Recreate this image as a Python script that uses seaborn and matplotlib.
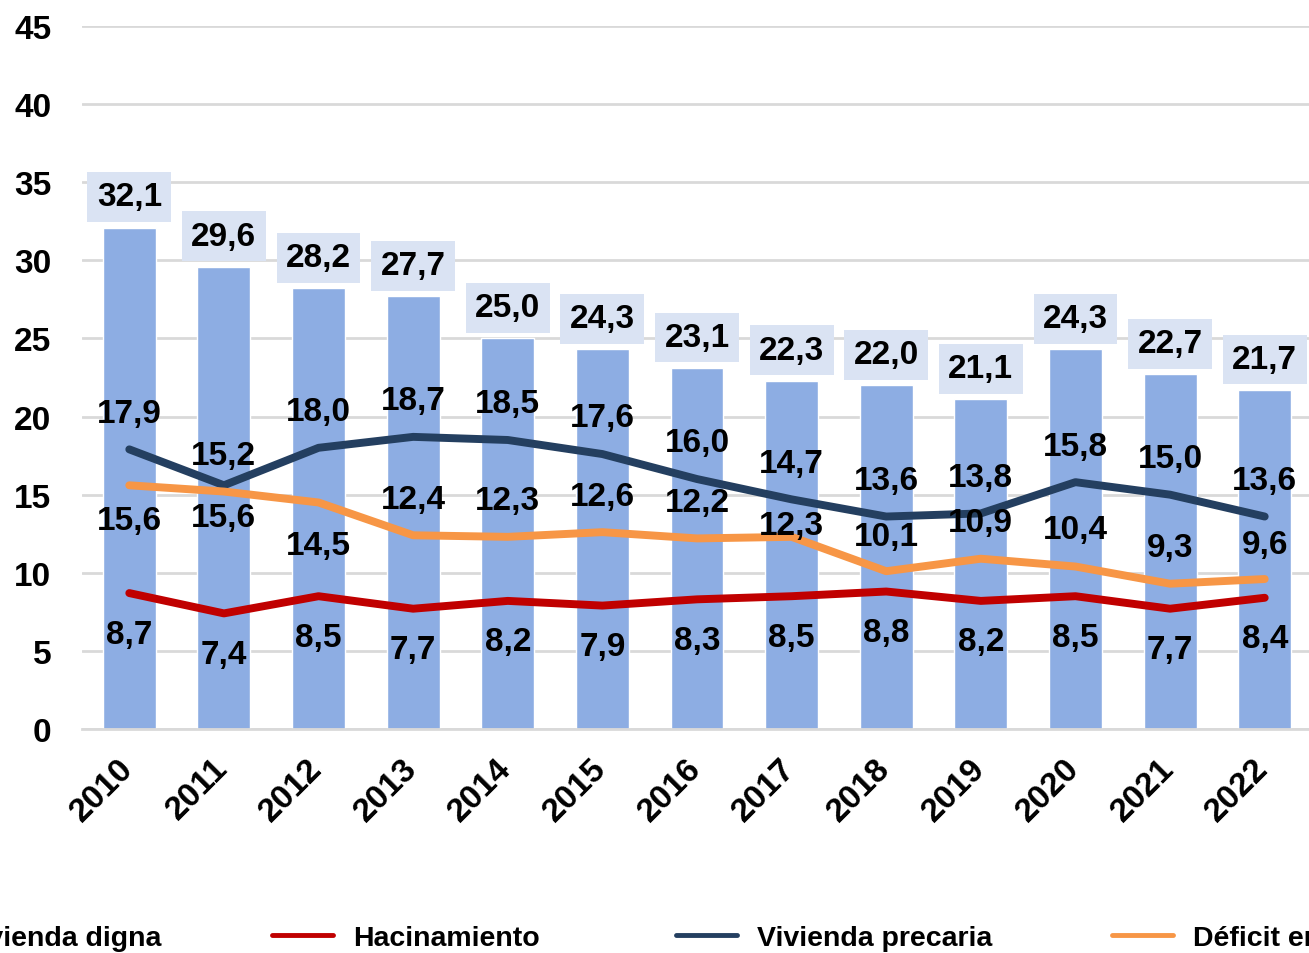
import numpy as np
import pandas as pd
import matplotlib
matplotlib.use("Agg")
import matplotlib.pyplot as plt
import matplotlib.transforms as mtrans
import seaborn as sns
from matplotlib.patches import Patch
from matplotlib.lines import Line2D

years = ["2010", "2011", "2012", "2013", "2014", "2015", "2016",
         "2017", "2018", "2019", "2020", "2021", "2022"]
vivienda_digna = [32.1, 29.6, 28.2, 27.7, 25.0, 24.3, 23.1, 22.3, 22.0, 21.1, 24.3, 22.7, 21.7]
hacinamiento = [8.7, 7.4, 8.5, 7.7, 8.2, 7.9, 8.3, 8.5, 8.8, 8.2, 8.5, 7.7, 8.4]
vivienda_precaria = [17.9, 15.6, 18.0, 18.7, 18.5, 17.6, 16.0, 14.7, 13.6, 13.8, 15.8, 15.0, 13.6]
deficit_servicios = [15.6, 15.2, 14.5, 12.4, 12.3, 12.6, 12.2, 12.3, 10.1, 10.9, 10.4, 9.3, 9.6]
series_names = ["Vivienda digna", "Hacinamiento", "Vivienda precaria", "Déficit en servicios"]
yticks = [0, 5, 10, 15, 20, 25, 30, 35, 40, 45]

BAR = "#8DADE3"
RED = "#C00000"
NAVY = "#243F60"
ORANGE = "#F79646"
BOX = "#DAE3F3"

sns.set_style("white")
plt.rcParams["font.family"] = ["Liberation Sans", "DejaVu Sans"]
plt.rcParams["font.weight"] = "bold"
plt.rcParams["text.color"] = "black"
plt.rcParams["xtick.color"] = "black"
plt.rcParams["ytick.color"] = "black"

W, H = 1309, 954
fig = plt.figure(figsize=(W / 100, H / 100), dpi=100)
ax = fig.add_axes([82 / W, 1 - 730 / H, 1230 / W, 703 / H])

df = pd.DataFrame({"year": years, "digna": vivienda_digna})
sns.barplot(data=df, x="year", y="digna", color=BAR, saturation=1, width=0.56, ax=ax, zorder=2)

xpos = np.arange(len(years))
sns.lineplot(x=xpos, y=hacinamiento, color=RED, lw=5.7, ax=ax, zorder=3, solid_capstyle="round")
sns.lineplot(x=xpos, y=vivienda_precaria, color=NAVY, lw=5.7, ax=ax, zorder=3, solid_capstyle="round")
sns.lineplot(x=xpos, y=deficit_servicios, color=ORANGE, lw=5.7, ax=ax, zorder=3, solid_capstyle="round")

ax.set_xlim(-0.5, 12.5)
ax.set_ylim(0, 45)
ax.set_yticks(yticks)
ax.yaxis.grid(True, color="#D9D9D9", lw=2, zorder=0)
ax.set_axisbelow(True)
for s in ["top", "right", "left"]:
    ax.spines[s].set_visible(False)
ax.spines["bottom"].set_color("#D9D9D9")
ax.spines["bottom"].set_linewidth(2)
ax.tick_params(axis="both", length=0)
ax.tick_params(axis="y", pad=22, labelsize=24)
ax.set_xticks(xpos)
ax.set_xticklabels(years, rotation=45, ha="right", fontsize=24, fontweight="bold")
ax.tick_params(axis="x", pad=6)
off = mtrans.ScaledTranslation(10 / 100, -15 / 100, fig.dpi_scale_trans)
for t in ax.get_xticklabels():
    t.set_transform(t.get_transform() + off)
for t in ax.get_yticklabels():
    t.set_fontweight("bold")
ax.set_xlabel("")
ax.set_ylabel("")

def fmt(v):
    return f"{v:.1f}".replace(".", ",")

FS = 24
for i, v in enumerate(vivienda_digna):
    ax.annotate(fmt(v), (i, v), xytext=(0, 22), textcoords="offset points",
                ha="center", va="center", fontsize=FS, fontweight="bold", zorder=5,
                bbox=dict(boxstyle="square,pad=0.28", fc=BOX, ec="none"))

for i, v in enumerate(hacinamiento):
    ax.annotate(fmt(v), (i, v), xytext=(0, -29.5), textcoords="offset points",
                ha="center", va="center", fontsize=FS, fontweight="bold", zorder=5)

navy_off = [26] * 13
navy_off[1] = -23
for i, v in enumerate(vivienda_precaria):
    ax.annotate(fmt(v), (i, v), xytext=(0, navy_off[i]), textcoords="offset points",
                ha="center", va="center", fontsize=FS, fontweight="bold", zorder=5)

orange_off = [-25, 26, -31, 26, 26, 26, 26, 8, 25, 26, 27, 26, 25]
for i, v in enumerate(deficit_servicios):
    ax.annotate(fmt(v), (i, v), xytext=(0, orange_off[i]), textcoords="offset points",
                ha="center", va="center", fontsize=FS, fontweight="bold", zorder=5)

handles = [Patch(color=BAR),
           Line2D([], [], color=RED, lw=3.5),
           Line2D([], [], color=NAVY, lw=3.5),
           Line2D([], [], color=ORANGE, lw=3.5)]
handle_x = [-120, 272, 676, 1112]
for h, name, hx in zip(handles, series_names, handle_x):
    fig.legend([h], [name], loc="center left", bbox_to_anchor=(hx / W, 1 - 939 / H),
               frameon=False, borderpad=0, borderaxespad=0,
               prop=dict(size=20.5, weight="bold"), handlelength=2.15,
               handletextpad=0.7)

fig.savefig("out.png", dpi=100)
